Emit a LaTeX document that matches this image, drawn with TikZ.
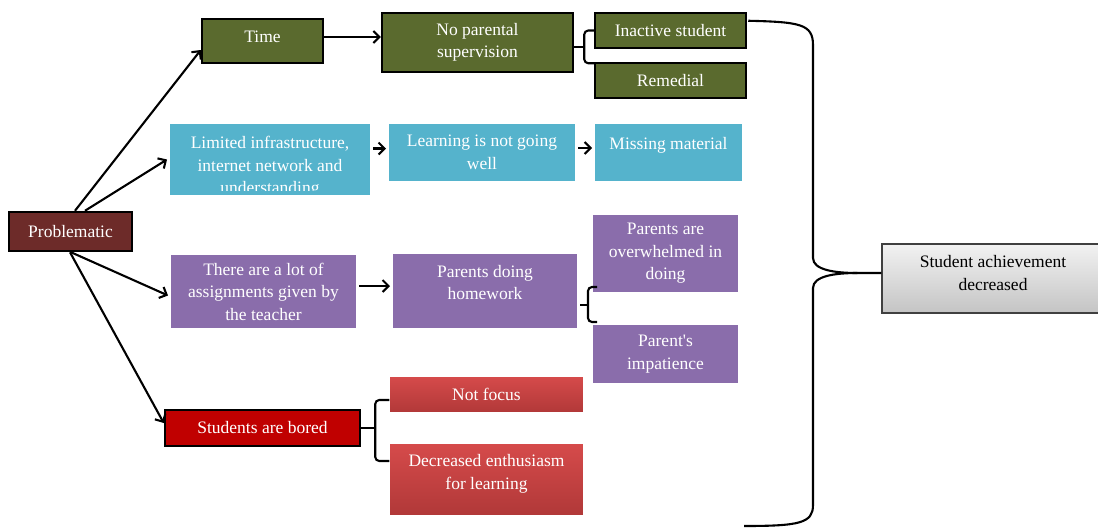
\documentclass[tikz,border=0pt]{standalone}
\usepackage{fontspec}
\setmainfont{Liberation Serif}[Ligatures=TeXOff]
\usetikzlibrary{arrows.meta,shadows,calc}
\definecolor{probc}{HTML}{6D2B29}
\definecolor{olive}{HTML}{5A6A2E}
\definecolor{cyanc}{HTML}{55B3CC}
\definecolor{purp}{HTML}{8A6DAB}
\definecolor{redc}{HTML}{C00000}
\definecolor{redtop}{HTML}{D64B4B}
\definecolor{redbot}{HTML}{B03838}
\definecolor{grtop}{HTML}{F2F2F2}
\definecolor{grbot}{HTML}{C4C4C4}
\definecolor{grline}{HTML}{404040}
\begin{document}
\begin{tikzpicture}[x=1pt,y=-1pt,
  every node/.style={font=\fontsize{17.5}{22.5}\selectfont, align=center, inner sep=0pt},
  darkbox/.style={draw=black, line width=2.5pt, text=white},
  softbox/.style={draw=white, line width=3pt, text=white,
    drop shadow={shadow xshift=1.2pt, shadow yshift=-1.8pt, fill=black, opacity=0.18}},
  arr/.style={line width=2.1pt, -{Straight Barb[length=6pt,width=12pt]}},
  bracepath/.style={line width=2.1pt, rounded corners=4pt},
]
\clip (0,0) rectangle (1098,528);
\useasboundingbox (0,0) rectangle (1098,528);

% left root
\node[darkbox, fill=probc, minimum width=123pt, minimum height=39pt] (prob) at (70.5,231.5) {Problematic};

% green row
\node[darkbox, fill=olive, minimum width=121pt, minimum height=44pt, text depth=8pt] (time) at (262.5,41) {Time};
\node[darkbox, fill=olive, minimum width=191pt, minimum height=59pt] (np) at (477.5,42.5) {No parental\\supervision};
\node[darkbox, fill=olive, minimum width=151pt, minimum height=35pt] (inact) at (670.5,30.5) {Inactive student};
\node[darkbox, fill=olive, minimum width=151pt, minimum height=35pt] (remed) at (670.5,80.5) {Remedial};

% cyan row
\node[softbox, fill=cyanc, minimum width=203pt, minimum height=74pt] (lim) at (270,159.5) {};
\begin{scope}
\clip ([shift={(2pt,8pt)}]lim.south west) rectangle ([shift={(-2pt,-2pt)}]lim.north east);
\node[text=white] (limtxt) at (270,167) {Limited infrastructure,\\internet network and\\understanding};
\end{scope}
\node[softbox, fill=cyanc, minimum width=189pt, minimum height=60pt] (learn) at (482,152.5) {Learning is not going\\well};
\node[softbox, fill=cyanc, minimum width=150pt, minimum height=60pt, text depth=18pt] (miss) at (668.5,152.5) {Missing material};

% purple row
\node[softbox, fill=purp, minimum width=188pt, minimum height=76pt] (assign) at (263.5,291.5) {There are a lot of\\assignments given by\\the teacher};
\node[softbox, fill=purp, minimum width=187pt, minimum height=77pt, text depth=17pt] (pdo) at (485,291) {Parents doing\\homework};
\node[softbox, fill=purp, minimum width=148pt, minimum height=80pt] (over) at (665.5,253.5) {Parents are\\overwhelmed in\\doing};
\node[softbox, fill=purp, minimum width=148pt, minimum height=61pt] (impat) at (665.5,354) {Parent's\\impatience};

% red row
\node[darkbox, fill=redc, minimum width=195pt, minimum height=36pt] (bored) at (262.5,428) {Students are bored};
\node[softbox, top color=redtop, bottom color=redbot, minimum width=196pt, minimum height=38pt] (nf) at (486.5,394.5) {Not focus};
\node[softbox, top color=redtop, bottom color=redbot, minimum width=196pt, minimum height=74pt, text depth=15.5pt] (dec) at (486.5,479.5) {Decreased enthusiasm\\for learning};

% result
\node[draw=grline, line width=1.5pt, top color=grtop, bottom color=grbot, text=black,
  minimum width=222pt, minimum height=69pt, text depth=11.5pt] (ach) at (993,278.5) {Student achievement\\decreased};

% arrows
\draw[arr] ([xshift=4.5pt]prob.north) -- ([yshift=-9pt]time.west);
\draw[arr] ([xshift=14.5pt]prob.north) -- (lim.west);
\draw[arr] ([xshift=0.5pt]prob.south) -- ([yshift=-4pt]assign.west);
\draw[arr] ([xshift=-0.5pt]prob.south) -- ([yshift=5pt]bored.west);
\draw[arr] ([yshift=4pt]time.east) -- ([yshift=4pt]time.east -| np.west);
\draw[arr] ([yshift=11pt]lim.east) -- ([yshift=11pt]lim.east -| learn.west);
\draw[arr] ([yshift=4.5pt]learn.east) -- ([yshift=4.5pt]learn.east -| miss.west);
\draw[arr] ([yshift=5.5pt]assign.east) -- ([yshift=5.5pt]assign.east -| pdo.west);

% small braces
\coordinate (b1) at ([yshift=-4.5pt]np.east);
\draw[bracepath] (inact.west) -| ($(b1)+(10,0)$) |- ([yshift=-1.5pt]remed.north west);
\draw[bracepath] (b1) -- ($(b1)+(10,0)$);
\coordinate (b2) at ([yshift=-14pt]pdo.east);
\draw[bracepath] ($(b2)+(17,-18)$) -| ($(b2)+(8,0)$) |- ($(b2)+(17,17)$);
\draw[bracepath] (b2) -- ($(b2)+(8,0)$);
\draw[bracepath] ($(bored.east)+(28,-28)$) -| ($(bored.east)+(14,0)$) |- ($(bored.east)+(28,33)$);
\draw[bracepath] (bored.east) -- ($(bored.east)+(14,0)$);

% big brace
\coordinate (bt) at ($(inact.north east)+(1,9)$);
\coordinate (bb) at (744,526);
\coordinate (tip) at ([yshift=5.5pt]ach.west);
\coordinate (tipl) at ($(tip)+(-24,0)$);
\draw[line width=2.1pt] (bt) .. controls (800,22) and (813,24) .. (813,45) -- (813,258) .. controls (813,270) and (835,273) .. (tipl) -- (tip);
\draw[line width=2.1pt] (bb) .. controls (800,526) and (813,523) .. (813,505) -- (813,288) .. controls (813,276) and (835,273) .. (tipl);
\end{tikzpicture}
\end{document}
